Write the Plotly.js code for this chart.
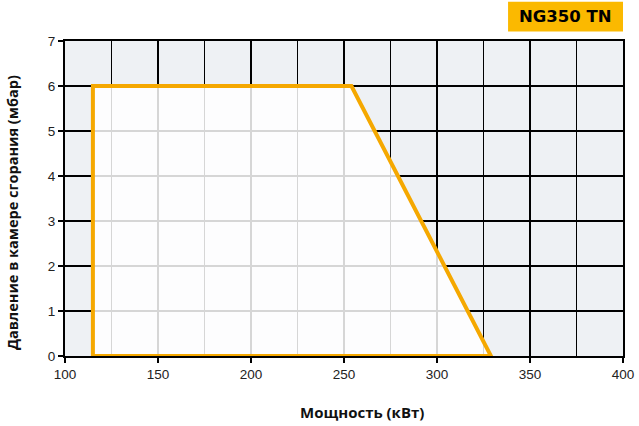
<!DOCTYPE html>
<html><head><meta charset="utf-8">
<script src="https://cdn.plot.ly/plotly-3.0.1.min.js"></script>
<style>html,body{margin:0;padding:0;background:#fff}#chart{width:639px;height:426px}</style>
</head><body><div id="chart"></div>
<script>
const powerKW = [115, 115, 254, 329, 115];
const pressureMbar = [0, 6, 6, 0, 0];
const xTicks = [100, 150, 200, 250, 300, 350, 400];
const yTicks = [0, 1, 2, 3, 4, 5, 6, 7];
const modelName = 'NG350 TN';
const xTitle = 'Мощность (кВт)';
const yTitle = 'Давление в камере сгорания (мбар)';

const trace = {
  x: powerKW, y: pressureMbar, type: 'scatter', mode: 'lines',
  fill: 'toself', fillcolor: 'rgba(255,255,255,0.84)',
  line: {color: '#f5a800', width: 4, shape: 'linear'},
  hoverinfo: 'skip', showlegend: false
};

const titleFont = {family: 'Open Sans, sans-serif', color: '#111', weight: 'bold'};

const layout = {
  width: 639, height: 426,
  margin: {l: 65, r: 16, t: 41, b: 70},
  paper_bgcolor: '#ffffff', plot_bgcolor: '#eef1f4',
  font: {family: 'Liberation Sans, Arial, sans-serif', size: 13, color: '#222'},
  xaxis: {
    range: [100, 400], tickvals: xTicks, ticks: 'outside', ticklen: 5, tickcolor: '#000', tickwidth: 1.5,
    showgrid: true, gridcolor: '#000', gridwidth: 1.5,
    minor: {dtick: 25, tick0: 100, showgrid: true, gridcolor: '#000', gridwidth: 1.5, ticks: ''},
    showline: true, linecolor: '#000', linewidth: 2, mirror: true, zeroline: false,
    tickfont: {size: 13.5, color: '#222'}
  },
  yaxis: {
    range: [0, 7], tickvals: yTicks, ticks: 'outside', ticklen: 5, tickcolor: '#000', tickwidth: 1.5,
    showgrid: true, gridcolor: '#000', gridwidth: 1.5,
    showline: true, linecolor: '#000', linewidth: 2, mirror: true, zeroline: false,
    tickfont: {size: 13.5, color: '#222'}
  },
  shapes: [{type: 'rect', xref: 'paper', yref: 'paper', x0: 0.794, x1: 1.0, y0: 1.03, y1: 1.125,
    fillcolor: '#fbb900', line: {width: 0}, layer: 'above'}],
  annotations: [
    {text: '<b>' + modelName + '</b>', xref: 'paper', yref: 'paper', x: 0.897, y: 1.077,
      xanchor: 'center', yanchor: 'middle', showarrow: false,
      font: {family: 'DejaVu Sans, sans-serif', size: 16.5, color: '#000'}},
    {text: xTitle, xref: 'paper', yref: 'paper', x: 0.532, y: -0.178,
      xanchor: 'center', yanchor: 'middle', showarrow: false,
      font: Object.assign({size: 15}, titleFont)},
    {text: yTitle, xref: 'paper', yref: 'paper', x: -0.093, y: 0.454, textangle: -90,
      xanchor: 'center', yanchor: 'middle', showarrow: false,
      font: Object.assign({size: 14.5}, titleFont)}
  ]
};

Plotly.newPlot('chart', [trace], layout, {displayModeBar: false, staticPlot: true});
</script></body></html>
